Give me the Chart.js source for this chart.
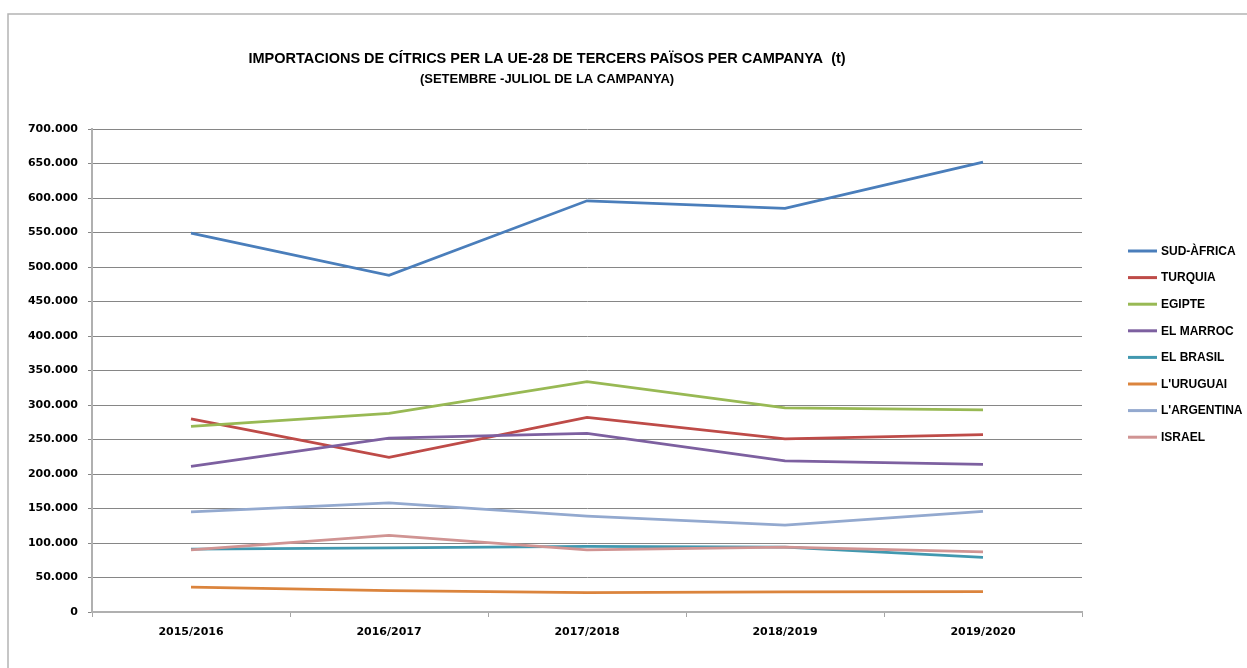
<!DOCTYPE html>
<html>
<head>
<meta charset="utf-8">
<script src="https://cdn.jsdelivr.net/npm/chart.js@4/dist/chart.umd.min.js"></script>
<style>
  html, body { margin: 0; padding: 0; background: #fff; }
  #wrap { position: relative; width: 1247px; height: 668px; }
</style>
</head>
<body>
<div id="wrap"><canvas id="citricsChart"></canvas></div>
<script>
// Campanyes (eix X)
const campanyes = ["2015/2016", "2016/2017", "2017/2018", "2018/2019", "2019/2020"];

// Importacions per país (t)
const sudAfrica = [549000, 488000, 596000, 585000, 652000];
const turquia = [280000, 224000, 282000, 251000, 257000];
const egipte = [269000, 288000, 334000, 296000, 293000];
const elMarroc = [211000, 252000, 259000, 219000, 214000];
const elBrasil = [91000, 93000, 95000, 94000, 79000];
const lUruguai = [36000, 31000, 28000, 29000, 29500];
const lArgentina = [145000, 158000, 139000, 126000, 146000];
const israel = [90000, 111000, 90000, 94000, 87000];

const paisos = ["SUD-ÀFRICA", "TURQUIA", "EGIPTE", "EL MARROC", "EL BRASIL", "L'URUGUAI", "L'ARGENTINA", "ISRAEL"];
const colors = ["#4a7ebb", "#be4b48", "#98b954", "#7d60a0", "#4198af", "#db843d", "#93a9cf", "#d09493"];
const valors = [sudAfrica, turquia, egipte, elMarroc, elBrasil, lUruguai, lArgentina, israel];

// Format 700000 -> 700.000
function fmtMiles(v) {
  return String(v).replace(/\B(?=(\d{3})+(?!\d))/g, ".");
}

const frameAndTextPlugin = {
  id: "frameAndText",
  afterDraw: (chart) => {
    const { ctx } = chart;
    ctx.save();

    // outer frame (only top and left edges visible)
    ctx.strokeStyle = "#b4b4b4";
    ctx.lineWidth = 1.5;
    ctx.beginPath();
    ctx.moveTo(8, 700);
    ctx.lineTo(8, 14);
    ctx.lineTo(1260, 14);
    ctx.stroke();

    // title
    ctx.fillStyle = "#000";
    ctx.textAlign = "center";
    ctx.textBaseline = "middle";
    ctx.font = "bold 14.5px 'Liberation Sans'";
    ctx.fillText("IMPORTACIONS DE CÍTRICS PER LA UE-28 DE TERCERS PAÏSOS PER CAMPANYA  (t)", 547, 59, 600);
    ctx.font = "bold 13px 'Liberation Sans'";
    ctx.fillText("(SETEMBRE -JULIOL DE LA CAMPANYA)", 547, 79, 264);

    // legend on the right
    ctx.textAlign = "left";
    ctx.font = "bold 12px 'Liberation Sans'";
    chart.data.datasets.forEach((ds, i) => {
      const y = 251 + i * 26.6;
      ctx.strokeStyle = ds.borderColor;
      ctx.lineWidth = 3;
      ctx.beginPath();
      ctx.moveTo(1128, y);
      ctx.lineTo(1157, y);
      ctx.stroke();
      ctx.fillStyle = "#000";
      ctx.fillText(ds.label, 1161, y + 0.5);
    });

    ctx.restore();
  },
};

const ctx = document.getElementById("citricsChart").getContext("2d");

new Chart(ctx, {
  type: "line",
  data: {
    labels: campanyes,
    datasets: paisos.map((p, i) => ({
      label: p,
      data: valors[i],
      borderColor: colors[i],
      backgroundColor: colors[i],
      borderWidth: 2.75,
      pointRadius: 0,
      tension: 0,
      fill: false,
      order: paisos.length - i,
    })),
  },
  options: {
    responsive: true,
    maintainAspectRatio: false,
    animation: false,
    layout: { padding: { top: 129, right: 165, left: 0, bottom: 0 } },
    plugins: {
      legend: { display: false },
      title: { display: false },
      tooltip: { enabled: false },
    },
    scales: {
      x: {
        offset: true,
        grid: {
          offset: true,
          drawOnChartArea: false,
          drawTicks: true,
          tickLength: 5,
          color: "#a6a6a6",
          lineWidth: 1,
        },
        border: { color: "#b0b0b0", width: 2 },
        ticks: {
          color: "#000",
          font: { family: "'DejaVu Sans'", size: 11, weight: "bold" },
          padding: 9,
          maxRotation: 0,
        },
        afterFit: (scale) => {
          scale.height = 56;
        },
      },
      y: {
        min: 0,
        max: 700000,
        grid: {
          color: "#868686",
          lineWidth: 1,
          drawTicks: true,
          tickLength: 4,
        },
        border: { color: "#b0b0b0", width: 2 },
        ticks: {
          stepSize: 50000,
          color: "#000",
          font: { family: "'DejaVu Sans'", size: 11, weight: "bold" },
          padding: 10,
          callback: (v) => fmtMiles(v),
        },
        afterFit: (scale) => {
          scale.width = 92;
        },
      },
    },
  },
  plugins: [frameAndTextPlugin],
});
</script>
</body>
</html>
